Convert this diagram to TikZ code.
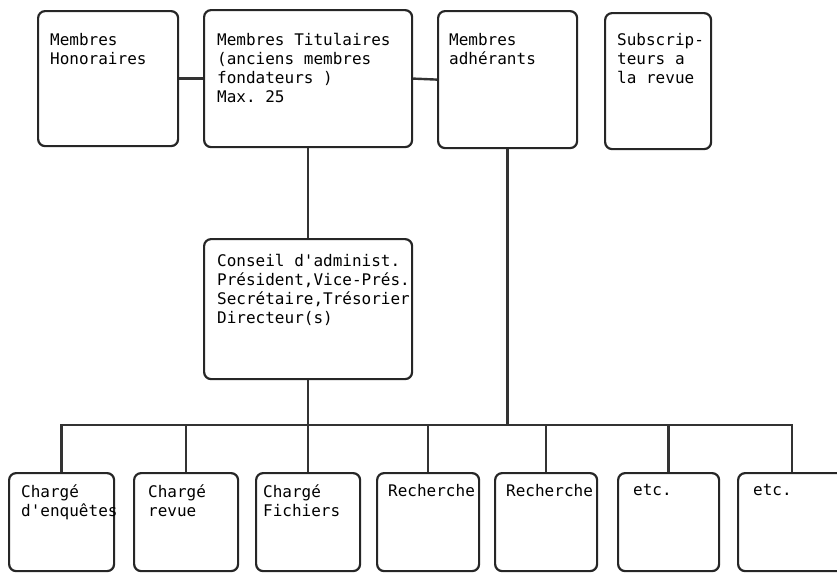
\documentclass[tikz,border=0pt]{standalone}
\usepackage{fontspec}
\setmonofont{DejaVu Sans Mono}
\usepackage{tikz}
\usetikzlibrary{positioning}
\tikzset{
	rectnode/.style={rectangle, draw=black!85, line width=2.2pt, rounded corners=7pt, anchor=north west, inner sep=0pt},
	textnode/.style={anchor=north west, align=left, inner sep=0pt, font=\ttfamily\fontsize{16}{19}\selectfont},
	myline/.style={draw=black!80, line width=2.4pt}
}

\begin{document}
\begin{tikzpicture}[x=1pt,y=-1pt]
		\useasboundingbox (0,0) rectangle (837,573);
		\node[rectnode, minimum width=140, minimum height=135] at (37,10) (hon) {};
		\node[rectnode, minimum width=208, minimum height=137] at (203,9) (tit) {};
		\node[rectnode, minimum width=139, minimum height=137] at (437,10) (adh) {};
		\node[rectnode, minimum width=106, minimum height=136] at (604,12) (sub) {};
		\node[rectnode, minimum width=208, minimum height=140] at (203,238) (con) {};
		
		\node[rectnode, minimum width=105, minimum height=98] at (8,472) (enq) {};
		\node[rectnode, minimum width=104, minimum height=98] at (133,472) (rev) {};
		\node[rectnode, minimum width=104, minimum height=98] at (255,472) (fic) {};
		\node[rectnode, minimum width=102, minimum height=98] at (376,472) (rech1) {};
		\node[rectnode, minimum width=102, minimum height=98] at (494,472) (rech2) {};
		\node[rectnode, minimum width=101, minimum height=98] at (617,472) (etc1) {};
		\node[rectnode, minimum width=108, minimum height=98] at (737,472) (etc2) {};
		
		%Texts
		\node[textnode] at (50,33) (Thon) {Membres\\Honoraires};
		\node[textnode] at (217,33) (Ttit) {Membres Titulaires\\(anciens membres\\fondateurs )\\Max. 25};
		\node[textnode] at (449,33) (Tadh) {Membres\\adhérants};
		\node[textnode] at (617,33) (Tsub) {Subscrip-\\teurs a\\la revue};
		\node[textnode] at (217,254) (Tcon) {Conseil d'administ.\\Président,Vice-Prés.\\Secrétaire,Trésorier\\Directeur(s)};
		
		\node[textnode] at (21,484) (Tenq) {Chargé\\d'enquêtes};
		\node[textnode] at (148,484) (Trev) {Chargé\\revue};
		\node[textnode] at (263,484) (Tfic) {Chargé\\Fichiers};
		\node[textnode] at (388,484) (Trech1) {Recherche};
		\node[textnode] at (506,484) (Trech2) {Recherche};
		\node[textnode] at (633,484) (Tetc1) {etc.};
		\node[textnode] at (753,484) (Tetc2) {etc.};
		
		%Lines
		\coordinate (bus) at (307,425);
		
		\draw[myline] (hon.east) -- (tit.west);
		\draw[myline] (tit.east) -- (adh.west);
		\draw[myline] (tit.south) -- (con.north);
		\draw[myline] (con.south) -- (con.south |- bus);
		\draw[myline] (adh.south) -- (adh.south |- bus);
		\draw[myline] (enq.north) -- (enq.north |- bus) -- (etc2.north |- bus) -- (etc2.north);
		\draw[myline] (rev.north |- bus) -- (rev.north);
		\draw[myline] (fic.north |- bus) -- (fic.north);
		\draw[myline] (rech1.north |- bus) -- (rech1.north);
		\draw[myline] (rech2.north |- bus) -- (rech2.north);
		\draw[myline] (etc1.north |- bus) -- (etc1.north);
		
	\end{tikzpicture}
\end{document}
